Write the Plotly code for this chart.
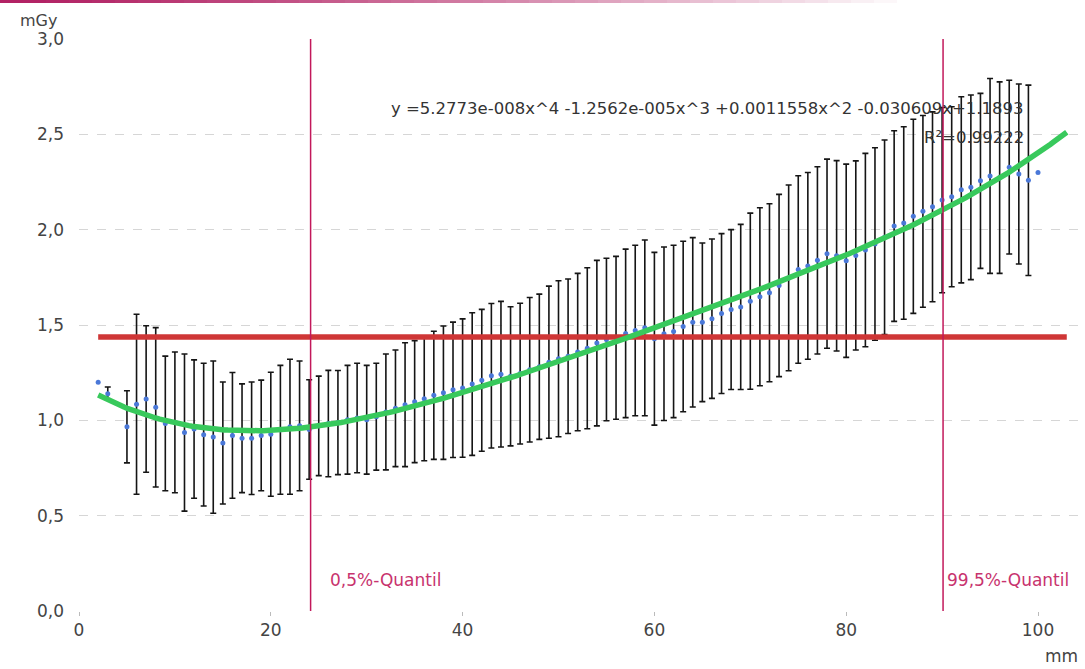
import numpy as np
import plotly.graph_objects as go

# ---------------- data ----------------
pos_mm = [2, 3] + list(range(5, 101))          # positions with a measured mean
mean_mgy = [
    1.20, 1.14, 0.966, 1.084, 1.112, 1.068, 0.984, 0.989, 0.936, 0.954,
    0.925, 0.912, 0.881, 0.921, 0.906, 0.906, 0.921, 0.927, 0.950, 0.966,
    0.971, 0.952, 0.971, 0.983, 0.988, 1.003, 1.012, 1.003, 1.019, 1.044,
    1.063, 1.082, 1.098, 1.113, 1.131, 1.145, 1.160, 1.169, 1.190, 1.210,
    1.234, 1.242, 1.231, 1.245, 1.265, 1.281, 1.305, 1.323, 1.336, 1.358,
    1.378, 1.405, 1.424, 1.433, 1.456, 1.471, 1.485, 1.428, 1.454, 1.466,
    1.492, 1.514, 1.514, 1.533, 1.560, 1.581, 1.595, 1.625, 1.648, 1.669,
    1.707, 1.747, 1.791, 1.810, 1.839, 1.874, 1.863, 1.837, 1.865, 1.893,
    1.925, 1.960, 2.019, 2.035, 2.070, 2.096, 2.120, 2.155, 2.173, 2.209,
    2.222, 2.256, 2.282, 2.273, 2.328, 2.292, 2.259, 2.300,
]

err_pos_mm = [3] + list(range(5, 100))          # positions with an error bar
sd_mgy = [
    0.035, 0.189, 0.472, 0.384, 0.418, 0.353, 0.369, 0.412, 0.363, 0.374,
    0.399, 0.320, 0.330, 0.285, 0.295, 0.290, 0.325, 0.338, 0.354, 0.340,
    0.261, 0.261, 0.279, 0.273, 0.285, 0.287, 0.285, 0.280, 0.304, 0.306,
    0.325, 0.320, 0.325, 0.336, 0.350, 0.355, 0.363, 0.374, 0.372, 0.379,
    0.382, 0.365, 0.369, 0.379, 0.381, 0.399, 0.409, 0.405, 0.413, 0.422,
    0.434, 0.426, 0.427, 0.442, 0.447, 0.461, 0.453, 0.455, 0.452, 0.447,
    0.444, 0.416, 0.418, 0.419, 0.419, 0.433, 0.462, 0.467, 0.467, 0.478,
    0.487, 0.492, 0.490, 0.491, 0.496, 0.499, 0.507, 0.496, 0.507, 0.505,
    0.510, 0.500, 0.505, 0.509, 0.503, 0.498, 0.486, 0.472, 0.488, 0.484,
    0.459, 0.511, 0.502, 0.456, 0.472, 0.499,
]

# polynomial trendline (coefficients as printed on the chart, highest power first)
fit_coeffs = [5.2773e-008, -1.2562e-005, 0.0011558, -0.030609, 1.1893]
fit_range_mm = [2, 103]
fit_equation = "y =5.2773e-008x^4 -1.2562e-005x^3 +0.0011558x^2 -0.030609x+1.1893"
r_squared = "0.99222"

reference_level = 1.437            # horizontal red line
reference_range_mm = [2, 103]

quantile_pos = [24.15, 90.1]
quantile_labels = ["0,5%-Quantil", "99,5%-Quantil"]

x_ticks = [0, 20, 40, 60, 80, 100]
y_ticks = [0.0, 0.5, 1.0, 1.5, 2.0, 2.5, 3.0]

# ---------------- figure ----------------
W, H = 1085, 669
ML, MR, MT, MB = 79, 0, 39, 58
PW, PH = W - ML - MR, H - MT - MB

FONT = "DejaVu Sans"
err_mean = [mean_mgy[pos_mm.index(p)] for p in err_pos_mm]

fig = go.Figure()

# error bars
fig.add_trace(go.Scatter(
    x=err_pos_mm, y=err_mean, mode="markers",
    marker=dict(size=1, color="rgba(0,0,0,0)"),
    error_y=dict(type="data", array=sd_mgy, visible=True,
                 color="#151515", thickness=1.6, width=3),
    hoverinfo="skip", showlegend=False,
))

# measured means
fig.add_trace(go.Scatter(
    x=pos_mm, y=mean_mgy, mode="markers",
    marker=dict(size=5, color="#4a78d8"),
    showlegend=False,
))

# reference level
fig.add_trace(go.Scatter(
    x=reference_range_mm, y=[reference_level] * 2, mode="lines",
    line=dict(color="#cf3636", width=5.5),
    showlegend=False,
))

# trendline
fx = np.linspace(fit_range_mm[0], fit_range_mm[1], 300)
fy = np.polyval(fit_coeffs, fx)
fig.add_trace(go.Scatter(
    x=fx, y=fy, mode="lines",
    line=dict(color="#38c95c", width=5.5),
    showlegend=False,
))

shapes = []
for q in quantile_pos:
    shapes.append(dict(type="line", xref="x", yref="y", x0=q, x1=q, y0=0, y1=3.0,
                       line=dict(color="#c2185b", width=1.5), layer="above"))

# gradient strip at the very top of the page
n_seg = 40
start_rgb = np.array([178, 34, 100])
end_px = 920
for i in range(n_seg):
    t = i / (n_seg - 1)
    c = start_rgb + (np.array([255, 255, 255]) - start_rgb) * (t ** 1.3)
    px0 = end_px * i / n_seg
    px1 = end_px * (i + 1) / n_seg
    shapes.append(dict(type="line", xref="paper", yref="paper",
                       x0=(px0 - ML) / PW, x1=(px1 - ML) / PW,
                       y0=(H - MB - 1.5) / PH, y1=(H - MB - 1.5) / PH,
                       line=dict(color="rgb(%d,%d,%d)" % tuple(c.astype(int)), width=3)))

annotations = [
    dict(text=fit_equation, x=(1026 - ML) / PW, y=(H - MB - 108) / PH, xref="paper", yref="paper",
         xanchor="right", yanchor="middle", showarrow=False,
         font=dict(family=FONT, size=16.5, color="#333333")),
    dict(text="R²=" + r_squared, x=(1026 - ML) / PW, y=(H - MB - 137) / PH,
         xref="paper", yref="paper", xanchor="right", yanchor="middle", showarrow=False,
         font=dict(family=FONT, size=16.5, color="#333333")),
    dict(text="mGy", x=(38 - ML) / PW, y=(H - MB - 20) / PH, xref="paper", yref="paper",
         xanchor="center", yanchor="middle", showarrow=False,
         font=dict(family=FONT, size=16, color="#444444")),
    dict(text="mm", x=(1061 - ML) / PW, y=(H - MB - 656) / PH, xref="paper", yref="paper",
         xanchor="center", yanchor="middle", showarrow=False,
         font=dict(family=FONT, size=17, color="#444444")),
]
for q, lab, shift in zip(quantile_pos, quantile_labels, [17, 2]):
    annotations.append(dict(text=lab, x=q, y=0.163, xref="x", yref="y",
                            xanchor="left", yanchor="middle", xshift=shift, showarrow=False,
                            font=dict(family=FONT, size=17, color="#c8336e")))

fig.update_layout(
    width=W, height=H,
    margin=dict(l=ML, r=MR, t=MT, b=MB, autoexpand=False),
    paper_bgcolor="white", plot_bgcolor="white",
    separators=",.",
    showlegend=False,
    shapes=shapes,
    annotations=annotations,
    xaxis=dict(range=[0, PW / 9.59], tickvals=x_ticks, ticktext=[str(v) for v in x_ticks],
               showgrid=False, zeroline=False, showline=False, automargin=False,
               ticks="outside", ticklen=4, tickcolor="#bbbbbb", tickwidth=1,
               tickfont=dict(family=FONT, size=17, color="#444444")),
    yaxis=dict(range=[0, 3.0], tickvals=y_ticks, tickformat=".1f", automargin=False,
               showgrid=True, gridcolor="#d6d6d6", griddash="dash", gridwidth=1,
               zeroline=False, showline=False, ticks="",
               ticklabelstandoff=14,
               tickfont=dict(family=FONT, size=17, color="#444444")),
)

fig.write_html(
    "out.html",
    config={"displayModeBar": False},
    post_script="document.body.style.margin='0';document.body.style.overflow='hidden';",
)
